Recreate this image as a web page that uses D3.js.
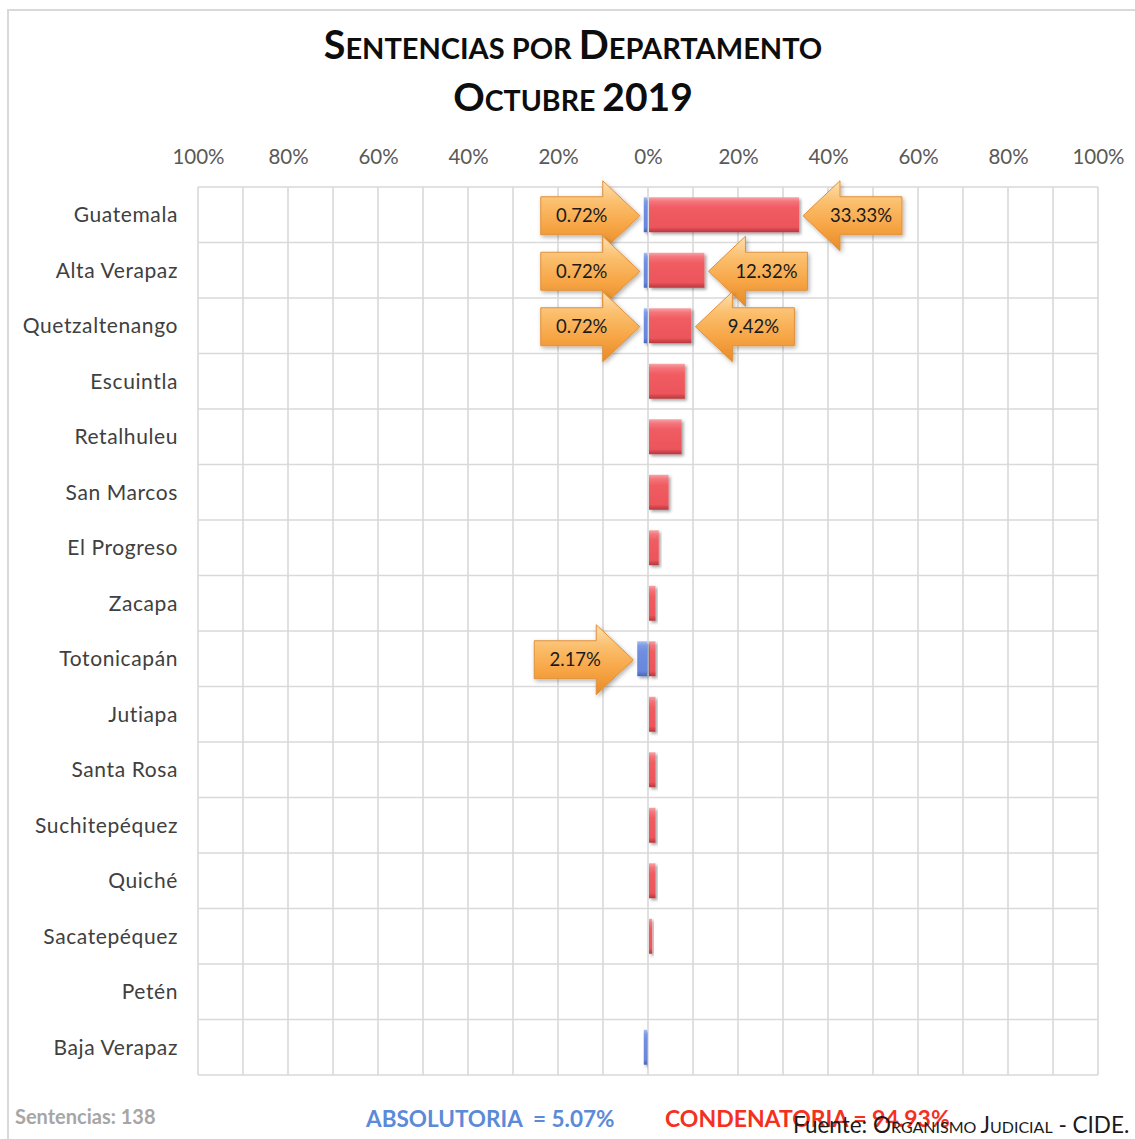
<!DOCTYPE html>
<html>
<head>
<meta charset="utf-8">
<script src="https://cdn.jsdelivr.net/npm/d3@7"></script>
<style>
  html, body { margin: 0; padding: 0; background: #fff; }
  svg { display: block; }
  text { font-family: Lato, "Open Sans", sans-serif; }
</style>
</head>
<body>
<svg id="chart" width="1135" height="1139"></svg>
<script>
// ---- data ----
const categories = ["Guatemala", "Alta Verapaz", "Quetzaltenango", "Escuintla", "Retalhuleu",
  "San Marcos", "El Progreso", "Zacapa", "Totonicapán", "Jutiapa", "Santa Rosa",
  "Suchitepéquez", "Quiché", "Sacatepéquez", "Petén", "Baja Verapaz"];
const condenatoria = [33.33, 12.32, 9.42, 7.97, 7.25, 4.35, 2.17, 1.45, 1.45, 1.45, 1.45, 1.45, 1.45, 0.72, 0, 0];
const absolutoria  = [0.72, 0.72, 0.72, 0, 0, 0, 0, 0, 2.17, 0, 0, 0, 0, 0, 0, 0.72];
const tickValues = [-1, -0.8, -0.6, -0.4, -0.2, 0, 0.2, 0.4, 0.6, 0.8, 1];
const gridValues = d3.range(-10, 11).map(d => d / 10);
const calloutsLeft  = [["Guatemala", 0.72], ["Alta Verapaz", 0.72], ["Quetzaltenango", 0.72], ["Totonicapán", 2.17]];
const calloutsRight = [["Guatemala", 33.33], ["Alta Verapaz", 12.32], ["Quetzaltenango", 9.42]];
const titleLine1 = [["S", 1], ["ENTENCIAS POR ", 0], ["D", 1], ["EPARTAMENTO", 0]];
const titleLine2 = [["O", 1], ["CTUBRE ", 0], ["2019", 1]];
const totalText = "Sentencias: 138";
const absText = "ABSOLUTORIA  = 5.07%";
const conText = "CONDENATORIA = 94.93%";
const sourceParts = [["Fuente: ", 1], ["O", 1], ["RGANISMO ", 0], ["J", 1], ["UDICIAL", 0], [" - CIDE.", 1]];

// ---- setup ----
const svg = d3.select("#chart");
const defs = svg.append("defs");

function vgrad(id, stops) {
  const g = defs.append("linearGradient").attr("id", id)
    .attr("x1", 0).attr("y1", 0).attr("x2", 0).attr("y2", 1);
  stops.forEach(([o, c]) => g.append("stop").attr("offset", o).attr("stop-color", c));
}
vgrad("gRed", [[0, "#f7a3a6"], [0.12, "#f4747a"], [0.3, "#f05c62"], [0.85, "#ec555b"], [1, "#b5383d"]]);
vgrad("gBlue", [[0, "#a9bdf2"], [0.12, "#7f9be6"], [0.3, "#6f8de0"], [0.85, "#6887dc"], [1, "#4a66b5"]]);
vgrad("gOrange", [[0, "#fde0b0"], [0.3, "#fbbf6e"], [0.65, "#f7a545"], [1, "#e78a28"]]);

const sh = defs.append("filter").attr("id", "shadow").attr("x", "-20%").attr("y", "-20%").attr("width", "150%").attr("height", "150%");
sh.append("feDropShadow").attr("dx", 2).attr("dy", 2).attr("stdDeviation", 1.5)
  .attr("flood-color", "#000").attr("flood-opacity", 0.35);
const sh2 = defs.append("filter").attr("id", "ashadow").attr("x", "-20%").attr("y", "-20%").attr("width", "150%").attr("height", "150%");
sh2.append("feDropShadow").attr("dx", 1.5).attr("dy", 2).attr("stdDeviation", 2)
  .attr("flood-color", "#000").attr("flood-opacity", 0.3);

// frame
svg.append("path").attr("d", "M8,1139 L8,10 L1135,10")
  .attr("fill", "none").attr("stroke", "#d9d9d9").attr("stroke-width", 2);

// scales
const x = d3.scaleLinear().domain([-1, 1]).range([198, 1098]);
const y = d3.scaleBand().domain(categories).range([187, 1075]).paddingInner(0.37).paddingOuter(0.185);
const yRow = d3.scaleBand().domain(categories).range([187, 1075]);

// gridlines
const grid = svg.append("g");
grid.selectAll("line.v").data(gridValues).join("line")
  .attr("x1", d => x(d)).attr("x2", d => x(d))
  .attr("y1", 187).attr("y2", 1075)
  .attr("stroke", "#d9d9d9").attr("stroke-width", 1.6);
const hLines = categories.map(c => yRow(c)).concat([1075]);
grid.selectAll("line.h").data(hLines).join("line")
  .attr("x1", x(-1)).attr("x2", x(1))
  .attr("y1", d => d).attr("y2", d => d)
  .attr("stroke", "#d9d9d9").attr("stroke-width", 1.6);

// top axis
const axis = svg.append("g").attr("transform", "translate(0,150)")
  .call(d3.axisTop(x).tickValues(tickValues).tickSize(0).tickPadding(0)
    .tickFormat(d => Math.round(Math.abs(d) * 100) + "%"));
axis.select(".domain").remove();
axis.selectAll("text").attr("font-family", "Lato, sans-serif").attr("font-size", 20.5)
  .attr("fill", "#595959").attr("dy", "0.32em").attr("y", 7);

// category labels
svg.append("g").selectAll("text").data(categories).join("text")
  .attr("x", 178).attr("y", d => yRow(d) + yRow.bandwidth() / 2)
  .attr("dy", "0.35em").attr("text-anchor", "end")
  .attr("font-size", 21).attr("letter-spacing", 0.6).attr("fill", "#404040").text(d => d);

// bars
const bars = svg.append("g");
bars.selectAll("rect.con").data(categories.map((c, i) => ({ c, v: condenatoria[i] })).filter(d => d.v > 0))
  .join("rect")
  .attr("x", x(0) + 1).attr("y", d => y(d.c))
  .attr("width", d => x(d.v / 100) - x(0))
  .attr("height", y.bandwidth())
  .attr("fill", "url(#gRed)").attr("filter", "url(#shadow)");
bars.selectAll("rect.abs").data(categories.map((c, i) => ({ c, v: absolutoria[i] })).filter(d => d.v > 0))
  .join("rect")
  .attr("x", d => x(-d.v / 100) - 1).attr("y", d => y(d.c))
  .attr("width", d => x(0) - x(-d.v / 100))
  .attr("height", y.bandwidth())
  .attr("fill", "url(#gBlue)").attr("filter", "url(#shadow)");

// callouts
const HL = 37, HH = 35, BH = 19, BL = 62;
function arrowPath(tx, ty, dir) {
  const s = -dir;
  const pts = [[tx, ty], [tx + s * HL, ty - HH], [tx + s * HL, ty - BH], [tx + s * (HL + BL), ty - BH],
    [tx + s * (HL + BL), ty + BH], [tx + s * HL, ty + BH], [tx + s * HL, ty + HH]];
  return "M" + pts.map(p => p.join(",")).join("L") + "Z";
}
const cg = svg.append("g");
function drawCallout(cat, val, dir) {
  const cy = yRow(cat) + yRow.bandwidth() / 2 + 1;
  const tx = dir === 1 ? x(-val / 100) - 5 : x(val / 100) + 5;
  cg.append("path").attr("d", arrowPath(tx, cy, dir))
    .attr("fill", "url(#gOrange)").attr("stroke", "#e0913a").attr("stroke-width", 1)
    .attr("filter", "url(#ashadow)");
  const bodyCenter = tx - dir * (HL + BL / 2);
  cg.append("text").attr("x", bodyCenter + dir * 10).attr("y", cy).attr("dy", "0.35em")
    .attr("text-anchor", "middle").attr("font-size", 18.5).attr("fill", "#1a1a1a")
    .text(val.toFixed(2) + "%");
}
calloutsLeft.forEach(([c, v]) => drawCallout(c, v, 1));
calloutsRight.forEach(([c, v]) => drawCallout(c, v, -1));

// title
function titleLine(parts, yPos, big, small) {
  const t = svg.append("text").attr("x", 573).attr("y", yPos).attr("text-anchor", "middle")
    .attr("font-weight", 700).attr("fill", "#0d0d0d");
  parts.forEach(([s, b]) => t.append("tspan").attr("font-size", b ? big : small).text(s));
}
titleLine(titleLine1, 59, 39.5, 29);
titleLine(titleLine2, 111, 39, 28.5);

// footer
svg.append("text").attr("x", 15).attr("y", 1124).attr("font-size", 20).attr("font-weight", 700)
  .attr("fill", "#a6a6a6").text(totalText);
svg.append("text").attr("x", 366).attr("y", 1127).attr("font-size", 22.5).attr("font-weight", 700)
  .attr("fill", "#5b8ad8").attr("xml:space", "preserve").text(absText);
svg.append("text").attr("x", 665).attr("y", 1127).attr("font-size", 23).attr("font-weight", 700)
  .attr("fill", "#f5301f").text(conText);
const f = svg.append("text").attr("x", 793).attr("y", 1133).attr("fill", "#1a1a1a");
sourceParts.forEach(([s, b]) => f.append("tspan").attr("font-size", b ? 22.5 : 16).text(s));
</script>
</body>
</html>
